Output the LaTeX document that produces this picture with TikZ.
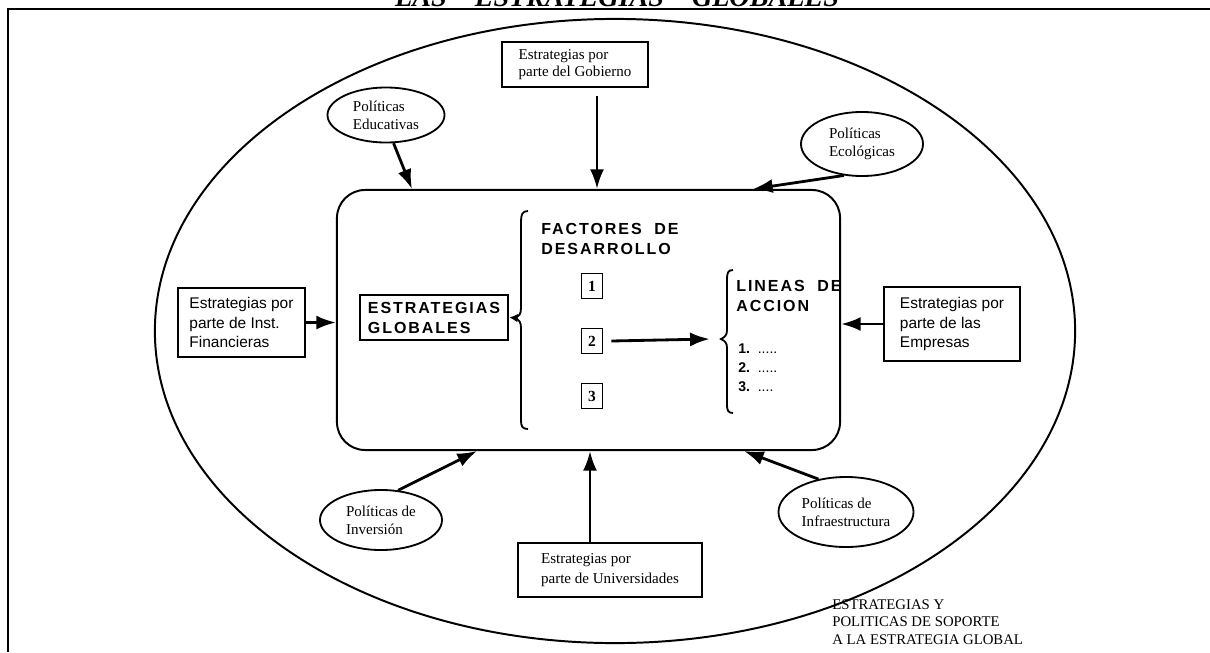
\documentclass[tikz,border=0pt]{standalone}
\usepackage{fontspec}
\setmainfont{Liberation Serif}
\setsansfont{Liberation Sans}
\newfontfamily\espaciada[LetterSpace=12]{Liberation Sans}
\usetikzlibrary{shapes,arrows.meta,positioning,calc}

\begin{document}
\begin{tikzpicture}[x=0.025cm,y=-0.025cm,
  caja/.style={draw, line width=1.3pt, align=left, inner sep=0pt, font=\fontsize{10.7}{12}\selectfont},
  cajasans/.style={caja, font=\sffamily\fontsize{11}{14}\selectfont},
  politica/.style={draw, ellipse, line width=1.3pt, inner sep=0pt, align=left, font=\fontsize{10.7}{13}\selectfont},
  numero/.style={draw, line width=1.3pt, minimum width=0.525cm, minimum height=0.625cm, inner sep=0pt, font=\bfseries\fontsize{11}{11}\selectfont},
  titulo/.style={font=\espaciada\bfseries\fontsize{11.4}{14.2}\selectfont, align=left, inner sep=0pt},
  flecha/.style={-{Latex[length=14pt,width=10pt]}, line width=2pt}]

\useasboundingbox (0,0) rectangle (1210,652);

% marco de la hoja y titulo
\draw[line width=2pt] (1210,9) -- (8,9) -- (8,652);
\node[font=\bfseries\itshape\fontsize{20}{20}\selectfont, anchor=base] (tit) at (617,6) {LAS\quad ESTRATEGIAS\quad GLOBALES};

% elipse de soporte
\draw[line width=1.4pt] (615,331) ellipse [x radius=11.5cm, y radius=7.8cm];

% bloque central
\node[draw, line width=1.4pt, rounded corners=20pt, minimum width=12.575cm, minimum height=6.5cm] (marco) at (588.5,320) {};

\node[draw, line width=1.6pt, font=\espaciada\bfseries\fontsize{11.4}{14.2}\selectfont, align=left, minimum width=3.7cm, minimum height=1.125cm, inner sep=0pt] (glob) at (434,317.5) {ESTRATEGIAS\\GLOBALES};

% llaves
\draw[line width=1.3pt] (528,211) .. controls (522,211) and (521,215) .. (521,222) -- (521,308)
  .. controls (521,314) and (519,316) .. (516,318) .. controls (519,320) and (521,322) .. (521,328)
  -- (521,420) .. controls (521,426) and (522,429) .. (528,429);
\coordinate (llave1) at (516,318);
\draw[line width=1.3pt] (733,270) .. controls (728,270) and (727,273) .. (727,279) -- (727,330)
  .. controls (727,335) and (725,337) .. (721,339) .. controls (725,341) and (727,343) .. (727,348)
  -- (727,405) .. controls (727,410) and (728,413) .. (733,413);
\coordinate (llave2) at (721,339);

\node[titulo, anchor=north west] (fact) at (541,223) {FACTORES\ \ DE\\DESARROLLO};
\node[numero] (f1) at (592,286) {1};
\node[numero] (f2) at (592,341) {2};
\node[numero] (f3) at (592,396) {3};

\node[titulo, anchor=north west] (lin) at (736,280) {LINEAS\ \ DE\\ACCION};
\node[anchor=north west, align=left, inner sep=0pt, font=\sffamily\fontsize{10}{13.5}\selectfont] (acc) at (738,344)
  {\textbf{1.}\ \ .....\\\textbf{2.}\ \ .....\\\textbf{3.}\ \ ....};

\draw[flecha] (f2.east) ++(8,0) -- ([xshift=-8pt]llave2);
\draw[-{Latex[length=6pt,width=6pt]}, line width=1.3pt] (llave1) -- (glob.east);

% estrategias de los actores
\node[caja, minimum width=3.65cm, minimum height=1.125cm] (gob) at (575,64.5) {Estrategias por\\parte del Gobierno};
\node[cajasans, minimum width=3.175cm, minimum height=1.725cm] (inst) at (241.5,322.5) {Estrategias por\\parte de Inst.\\Financieras};
\node[cajasans, minimum width=3.4cm, minimum height=1.85cm] (emp) at (952,324) {Estrategias por\\parte de las\\Empresas};
\node[caja, minimum width=4.6cm, minimum height=1.35cm, font=\fontsize{10.7}{14}\selectfont] (uni) at (610,570) {Estrategias por\\parte de Universidades};

% politicas
\node[politica, minimum width=2.925cm, minimum height=1.375cm] (edu) at (386,115) {Políticas\\Educativas};
\node[politica, minimum width=3.05cm, minimum height=1.6cm] (eco) at (862,144) {Políticas\\Ecológicas};
\node[politica, minimum width=3.05cm, minimum height=1.5cm] (inv) at (381,520) {Políticas de\\Inversión};
\node[politica, minimum width=3.375cm, minimum height=1.75cm] (inf) at (846,512) {Políticas de\\Infraestructura};

\draw[flecha, shorten <=6pt] ([xshift=0.55cm]gob.south) -- ([xshift=0.55cm]gob.south |- marco.north);
\draw[flecha] (edu.-75) -- ([xshift=1.9cm]marco.north west);
\draw[flecha] (eco.-120) -- ([xshift=-2.2cm]marco.north east);
\draw[flecha] (inst.east) -- (inst.east -| marco.west);
\draw[flecha] (emp.west) -- (emp.west -| marco.east);
\draw[flecha] (inv.60) -- ([xshift=3.525cm]marco.south west);
\draw[flecha] ([xshift=-0.5cm]uni.north) -- ([xshift=-0.5cm]uni.north |- marco.south);
\draw[flecha] (inf.130) -- ([xshift=-2.425cm]marco.south east);

\node[anchor=north west, align=left, inner sep=0pt, font=\fontsize{10.5}{12.5}\selectfont] (sop) at (832,599)
  {ESTRATEGIAS Y\\POLITICAS DE SOPORTE\\A LA ESTRATEGIA GLOBAL};

\end{tikzpicture}
\end{document}
